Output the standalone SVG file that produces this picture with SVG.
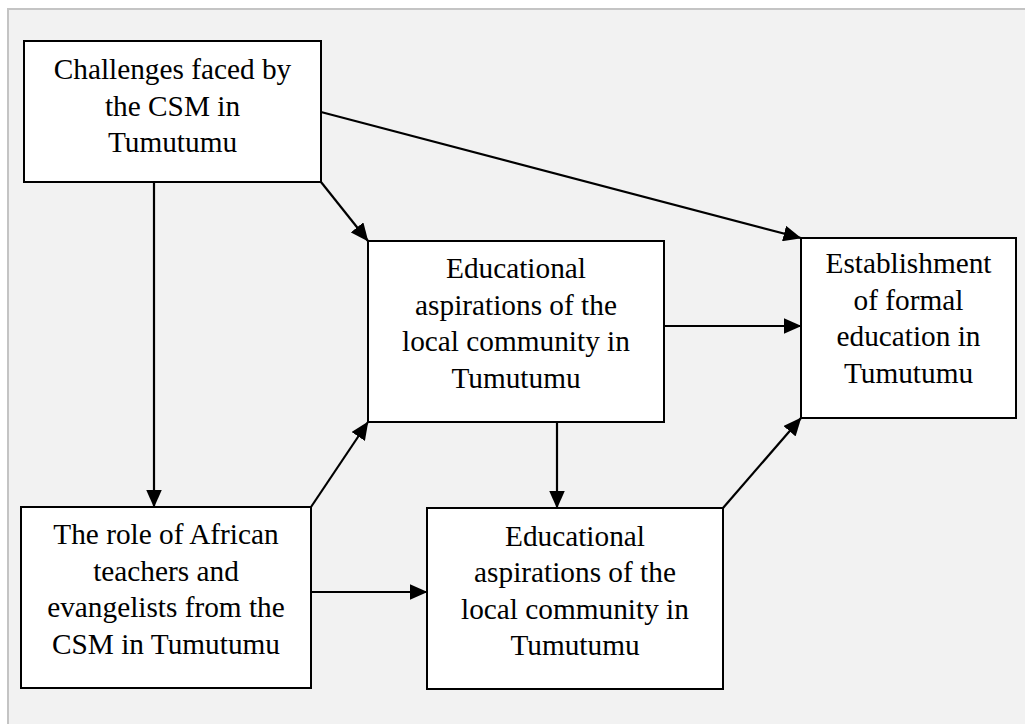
<svg xmlns="http://www.w3.org/2000/svg" width="1025" height="724" viewBox="0 0 1025 724">
<style>
.box{fill:#ffffff;stroke:#000000;stroke-width:2}
.lbl{font-size:29.3px;fill:#000000;text-anchor:middle}
.conn{stroke:#000000;stroke-width:2.2;fill:none;marker-end:url(#arr)}
</style>
<defs>
<marker id="arr" viewBox="0 0 18 16" markerUnits="userSpaceOnUse" markerWidth="18" markerHeight="16" refX="17.5" refY="8" orient="auto">
<path d="M0,0 L18,8 L0,16 z" fill="#000000"/>
</marker>
</defs>
<rect x="0" y="0" width="1025" height="724" fill="#ffffff"/>
<rect x="8" y="9" width="1100" height="800" fill="#f2f2f2" stroke="#c4c4c4" stroke-width="2"/>
<g id="connectors">
<line class="conn" x1="154" y1="182" x2="154" y2="507"/>
<line class="conn" x1="321" y1="182" x2="368" y2="241"/>
<line class="conn" x1="321" y1="112" x2="801" y2="238"/>
<line class="conn" x1="664" y1="326" x2="801" y2="326"/>
<line class="conn" x1="557" y1="422" x2="557" y2="508"/>
<line class="conn" x1="311" y1="507" x2="368" y2="422"/>
<line class="conn" x1="311" y1="592" x2="427" y2="592"/>
<line class="conn" x1="723" y1="508" x2="801" y2="418"/>
</g>
<g font-family="Liberation Serif, Tinos, Times New Roman, serif">
<g id="n1">
<rect class="box" x="24" y="41" width="297" height="141"/>
<text class="lbl" x="172.5" y="79">Challenges faced by</text>
<text class="lbl" x="172.5" y="115.5">the CSM in</text>
<text class="lbl" x="172.5" y="152">Tumutumu</text>
</g>
<g id="n2">
<rect class="box" x="368" y="241" width="296" height="181"/>
<text class="lbl" x="516" y="278">Educational</text>
<text class="lbl" x="516" y="314.7">aspirations of the</text>
<text class="lbl" x="516" y="351.4">local community in</text>
<text class="lbl" x="516" y="388">Tumutumu</text>
</g>
<g id="n3">
<rect class="box" x="21" y="507" width="290" height="181"/>
<text class="lbl" x="166" y="544">The role of African</text>
<text class="lbl" x="166" y="580.7">teachers and</text>
<text class="lbl" x="166" y="617">evangelists from the</text>
<text class="lbl" x="166" y="654">CSM in Tumutumu</text>
</g>
<g id="n4">
<rect class="box" x="427" y="508" width="296" height="181"/>
<text class="lbl" x="575" y="545.7">Educational</text>
<text class="lbl" x="575" y="582">aspirations of the</text>
<text class="lbl" x="575" y="618.5">local community in</text>
<text class="lbl" x="575" y="655">Tumutumu</text>
</g>
<g id="n5">
<rect class="box" x="801" y="238" width="215" height="180"/>
<text class="lbl" x="908.5" y="273">Establishment</text>
<text class="lbl" x="908.5" y="309.7">of formal</text>
<text class="lbl" x="908.5" y="346.4">education in</text>
<text class="lbl" x="908.5" y="383">Tumutumu</text>
</g>
</g>
</svg>
